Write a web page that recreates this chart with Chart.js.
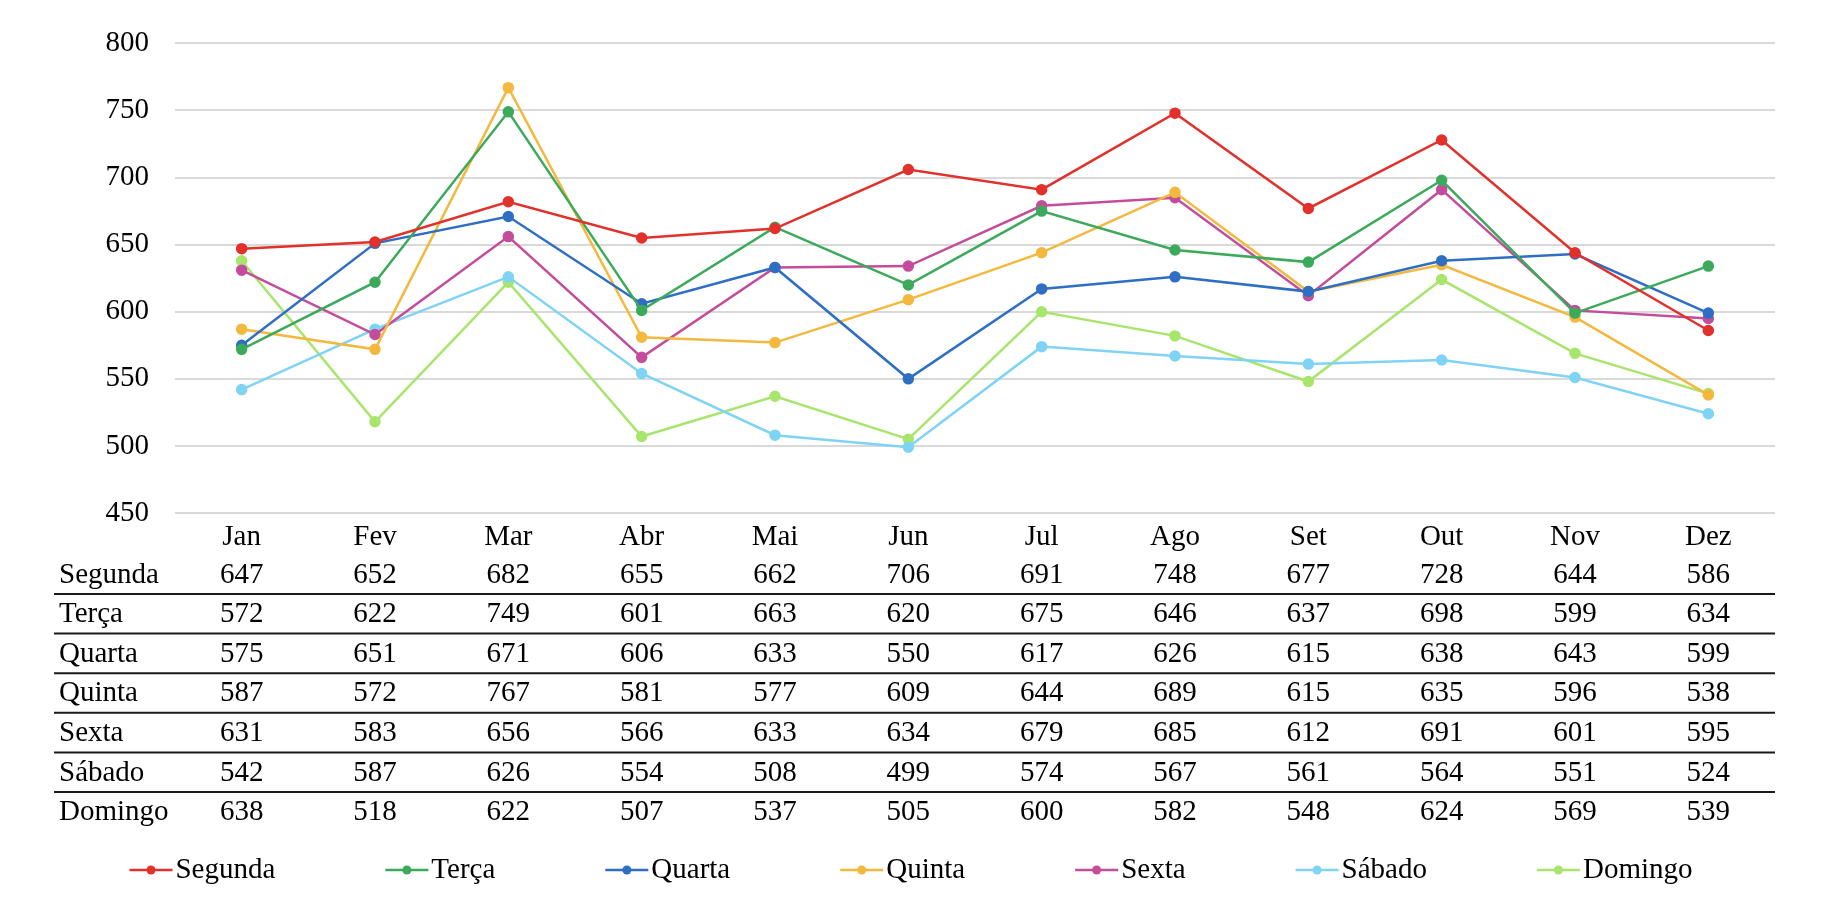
<!DOCTYPE html>
<html>
<head>
<meta charset="utf-8">
<script src="https://cdn.jsdelivr.net/npm/chart.js@4/dist/chart.umd.min.js"></script>
<style>
    body { margin: 0; background: #fff; }
    #wrap { width: 1822px; height: 912px; }
</style>
</head>
<body>
<div id="wrap"><canvas id="weekChart"></canvas></div>
<script>
const months = ["Jan", "Fev", "Mar", "Abr", "Mai", "Jun", "Jul", "Ago", "Set", "Out", "Nov", "Dez"];
const dayNames = ["Segunda", "Terça", "Quarta", "Quinta", "Sexta", "Sábado", "Domingo"];

const segunda = [647, 652, 682, 655, 662, 706, 691, 748, 677, 728, 644, 586];
const terca   = [572, 622, 749, 601, 663, 620, 675, 646, 637, 698, 599, 634];
const quarta  = [575, 651, 671, 606, 633, 550, 617, 626, 615, 638, 643, 599];
const quinta  = [587, 572, 767, 581, 577, 609, 644, 689, 615, 635, 596, 538];
const sexta   = [631, 583, 656, 566, 633, 634, 679, 685, 612, 691, 601, 595];
const sabado  = [542, 587, 626, 554, 508, 499, 574, 567, 561, 564, 551, 524];
const domingo = [638, 518, 622, 507, 537, 505, 600, 582, 548, 624, 569, 539];

const yTicks = [450, 500, 550, 600, 650, 700, 750, 800];

const seriesValues = [segunda, terca, quarta, quinta, sexta, sabado, domingo];
const colors = ["#e2302b", "#3ca95b", "#2e6fc3", "#f3b83d", "#c44d9b", "#7fd3f5", "#a8e56c"];

const serif = "'Liberation Serif', 'Times New Roman', serif";
const fontSize = 29;

// draws the data table under the axis and the legend at the bottom
const tablePlugin = {
    id: "dataTable",
    afterDraw(chart) {
        const ctx = chart.ctx;
        const x = chart.scales.x;
        const bottom = chart.chartArea.bottom;
        const rowH = 39.6;
        const firstLine = bottom + 81;

        ctx.save();
        ctx.font = fontSize + "px " + serif;
        ctx.fillStyle = "#000";
        ctx.textBaseline = "middle";

        for (let r = 0; r < dayNames.length; r++) {
            const cy = firstLine - 19 + r * rowH;
            ctx.textAlign = "left";
            ctx.fillText(dayNames[r], 59, cy);
            ctx.textAlign = "center";
            seriesValues[r].forEach((v, i) => {
                ctx.fillText(String(v), x.getPixelForValue(i), cy);
            });
            if (r < dayNames.length - 1) {
                ctx.strokeStyle = "#1a1a1a";
                ctx.lineWidth = 2;
                ctx.beginPath();
                ctx.moveTo(54, firstLine + r * rowH);
                ctx.lineTo(chart.chartArea.right, firstLine + r * rowH);
                ctx.stroke();
            }
        }

        // legend
        const legendY = 870;
        const markW = 43;
        const gap = 110;
        const widths = dayNames.map(n => markW + 3 + ctx.measureText(n).width);
        const total = widths.reduce((a, b) => a + b, 0) + gap * (dayNames.length - 1);
        let lx = chart.width / 2 - total / 2;
        ctx.textAlign = "left";
        dayNames.forEach((n, i) => {
            ctx.strokeStyle = colors[i];
            ctx.fillStyle = colors[i];
            ctx.lineWidth = 2.5;
            ctx.beginPath();
            ctx.moveTo(lx, legendY);
            ctx.lineTo(lx + markW, legendY);
            ctx.stroke();
            ctx.beginPath();
            ctx.arc(lx + markW / 2, legendY, 4.5, 0, Math.PI * 2);
            ctx.fill();
            ctx.fillStyle = "#000";
            ctx.fillText(n, lx + markW + 3, legendY);
            lx += widths[i] + gap;
        });
        ctx.restore();
    }
};

const ctx = document.getElementById("weekChart").getContext("2d");
new Chart(ctx, {
    type: "line",
    data: {
        labels: months,
        datasets: dayNames.map((name, i) => ({
            label: name,
            data: seriesValues[i],
            borderColor: colors[i],
            backgroundColor: colors[i],
            borderWidth: 2.5,
            pointRadius: 4.5,
            pointHoverRadius: 4.5,
            tension: 0
        }))
    },
    options: {
        responsive: true,
        maintainAspectRatio: false,
        animation: false,
        layout: { padding: { left: 0, right: 47, top: 43, bottom: 0 } },
        plugins: {
            legend: { display: false },
            tooltip: { enabled: false }
        },
        scales: {
            x: {
                offset: true,
                grid: { display: false, drawTicks: false },
                border: { display: false },
                ticks: {
                    color: "#000",
                    font: { family: serif, size: fontSize },
                    padding: 7,
                    maxRotation: 0
                },
                afterFit(scale) { scale.height = 399; }
            },
            y: {
                min: 450,
                max: 800,
                afterBuildTicks(scale) { scale.ticks = yTicks.map(v => ({ value: v })); },
                grid: { color: "#d9d9d9", lineWidth: 2, drawTicks: false },
                border: { display: false },
                ticks: {
                    color: "#000",
                    font: { family: serif, size: fontSize },
                    padding: 26
                },
                afterFit(scale) { scale.width = 175; }
            }
        }
    },
    plugins: [tablePlugin]
});
</script>
</body>
</html>
